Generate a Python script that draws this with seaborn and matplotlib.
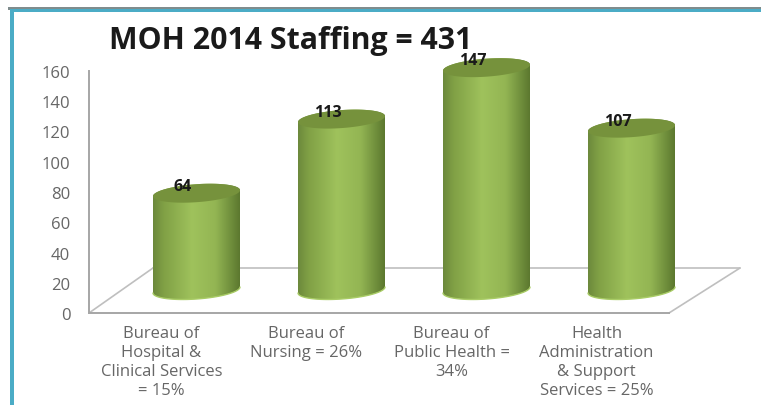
import numpy as np
import pandas as pd
import matplotlib
matplotlib.use("Agg")
import matplotlib.pyplot as plt
from matplotlib.colors import LinearSegmentedColormap
from matplotlib.patches import Polygon, Rectangle
import seaborn as sns

title = "MOH 2014 Staffing = 431"
categories = ["Bureau of\nHospital &\nClinical Services\n= 15%",
              "Bureau of\nNursing = 26%",
              "Bureau of\nPublic Health =\n34%",
              "Health\nAdministration\n& Support\nServices = 25%"]
staff = [64, 113, 147, 107]
y_ticks = [0, 20, 40, 60, 80, 100, 120, 140, 160]

W, H = 761, 406
GRAY = "#a6a6a6"
TEXT = "#666666"

sns.set_theme(style="white")
plt.rcParams["font.family"] = ["Open Sans", "DejaVu Sans"]

fig = plt.figure(figsize=(W / 100, H / 100), dpi=100, facecolor="white")


def axes_box(left, top, right, bottom):
    return [left / W, 1 - bottom / H, (right - left) / W, (bottom - top) / H]


# slide frame
fig.add_artist(Rectangle((8 / W, 1 - 10.5 / H), 1, 2.5 / H, transform=fig.transFigure, color="#7f8c8d", lw=0))
fig.add_artist(Rectangle((10 / W, 1 - 13 / H), 1, 3 / H, transform=fig.transFigure, color="#4bacc6", lw=0))
fig.add_artist(Rectangle((10 / W, 0), 4 / W, 1 - 10.5 / H, transform=fig.transFigure, color="#4bacc6", lw=0))

# front axes: value scale and category labels
ax = fig.add_axes(axes_box(89, 72, 669, 314))
ax.set_xlim(-0.5, 3.5)
ax.set_ylim(0, 160)
ax.patch.set_alpha(0)
ax.set_yticks(y_ticks)
ax.set_xticks(range(len(categories)))
ax.set_xticklabels(categories, fontsize=12, color=TEXT, linespacing=1.24, va="top")
ax.tick_params(axis="y", length=0, pad=13.5, labelsize=12, labelcolor=TEXT)
ax.tick_params(axis="x", length=0, pad=9)
for label in ax.get_yticklabels():
    label.set_y(label.get_position()[1])
for name in ("top", "right"):
    ax.spines[name].set_visible(False)
for name in ("left", "bottom"):
    ax.spines[name].set_color(GRAY)
    ax.spines[name].set_linewidth(1.4)

# floor of the 3-D box, in axes-relative offsets
t = ax.transAxes
dx, dy = 64 / 580, 45 / 242
rdx = 71 / 580
ax.plot([0, dx], [0, dy], transform=t, color="#bfbfbf", lw=1.2, clip_on=False, zorder=1)
ax.plot([dx, 1 + rdx], [dy, dy], transform=t, color="#bfbfbf", lw=1.2, clip_on=False, zorder=1)
ax.plot([1, 1 + rdx], [0, dy], transform=t, color="#bfbfbf", lw=1.2, clip_on=False, zorder=1)

# cylinders stand on the floor, offset from the front axes
PX = 242 / 160
FLOOR_PX = 291
TOP_PX = 30
bx = fig.add_axes(axes_box(124, TOP_PX, 704, 314))
bx.patch.set_alpha(0)
df = pd.DataFrame({"category": categories, "staff": staff})
sns.barplot(data=df, x="category", y="staff", color="#9bbb59", width=0.6, ax=bx, saturation=1, legend=False)
bx.axis("off")

body_cmap = LinearSegmentedColormap.from_list(
    "cyl", [(0, "#6c893c"), (0.12, "#80a045"), (0.45, "#9fc25c"), (0.72, "#93b553"), (0.9, "#6f8e3c"), (1, "#5c782f")]
)
theta = np.linspace(0, 2 * np.pi, 121)
b_u = 9.0 / PX
tilt_u = 3.0 / PX
grad = np.linspace(0, 1, 256).reshape(1, -1)

for patch, value in zip(list(bx.patches), staff):
    x0, w = patch.get_x(), patch.get_width()
    cx, a = x0 + w / 2, w / 2
    patch.set_visible(False)
    ex = cx + a * np.cos(theta)
    ey = b_u * np.sin(theta) + tilt_u * np.cos(theta)
    upper = theta <= np.pi
    lower = theta >= np.pi
    outline = np.vstack([
        np.column_stack([ex[upper], ey[upper] + value]),
        np.column_stack([ex[lower], ey[lower]]),
    ])
    clip = Polygon(outline, closed=True, transform=bx.transData, fc="none", ec="none")
    bx.add_patch(clip)
    im = bx.imshow(grad, cmap=body_cmap, extent=(x0, x0 + w, -20, value + 15),
                   aspect="auto", origin="lower", zorder=3)
    im.set_clip_path(clip)
    bx.plot(ex[lower], ey[lower], color="#a9cc66", lw=1, zorder=3.2)
    bx.fill(ex, ey + value, color="#76923c", lw=0, zorder=4)
    bx.annotate(str(value), (cx, value), xytext=(-14, 7.5), textcoords="offset pixels",
                ha="center", va="center", fontsize=11.5, fontweight="bold", color="#1a1a1a",
                zorder=5, annotation_clip=False)
bx.set_xlim(-0.5, 3.5)
bx.set_ylim(-(314 - FLOOR_PX) / PX, (FLOOR_PX - TOP_PX) / PX)

fig.text(109 / W, 1 - 41 / H, title, fontsize=21.8, fontweight="bold", color="#1a1a1a",
         ha="left", va="center")

fig.savefig("out.png", dpi=100)
